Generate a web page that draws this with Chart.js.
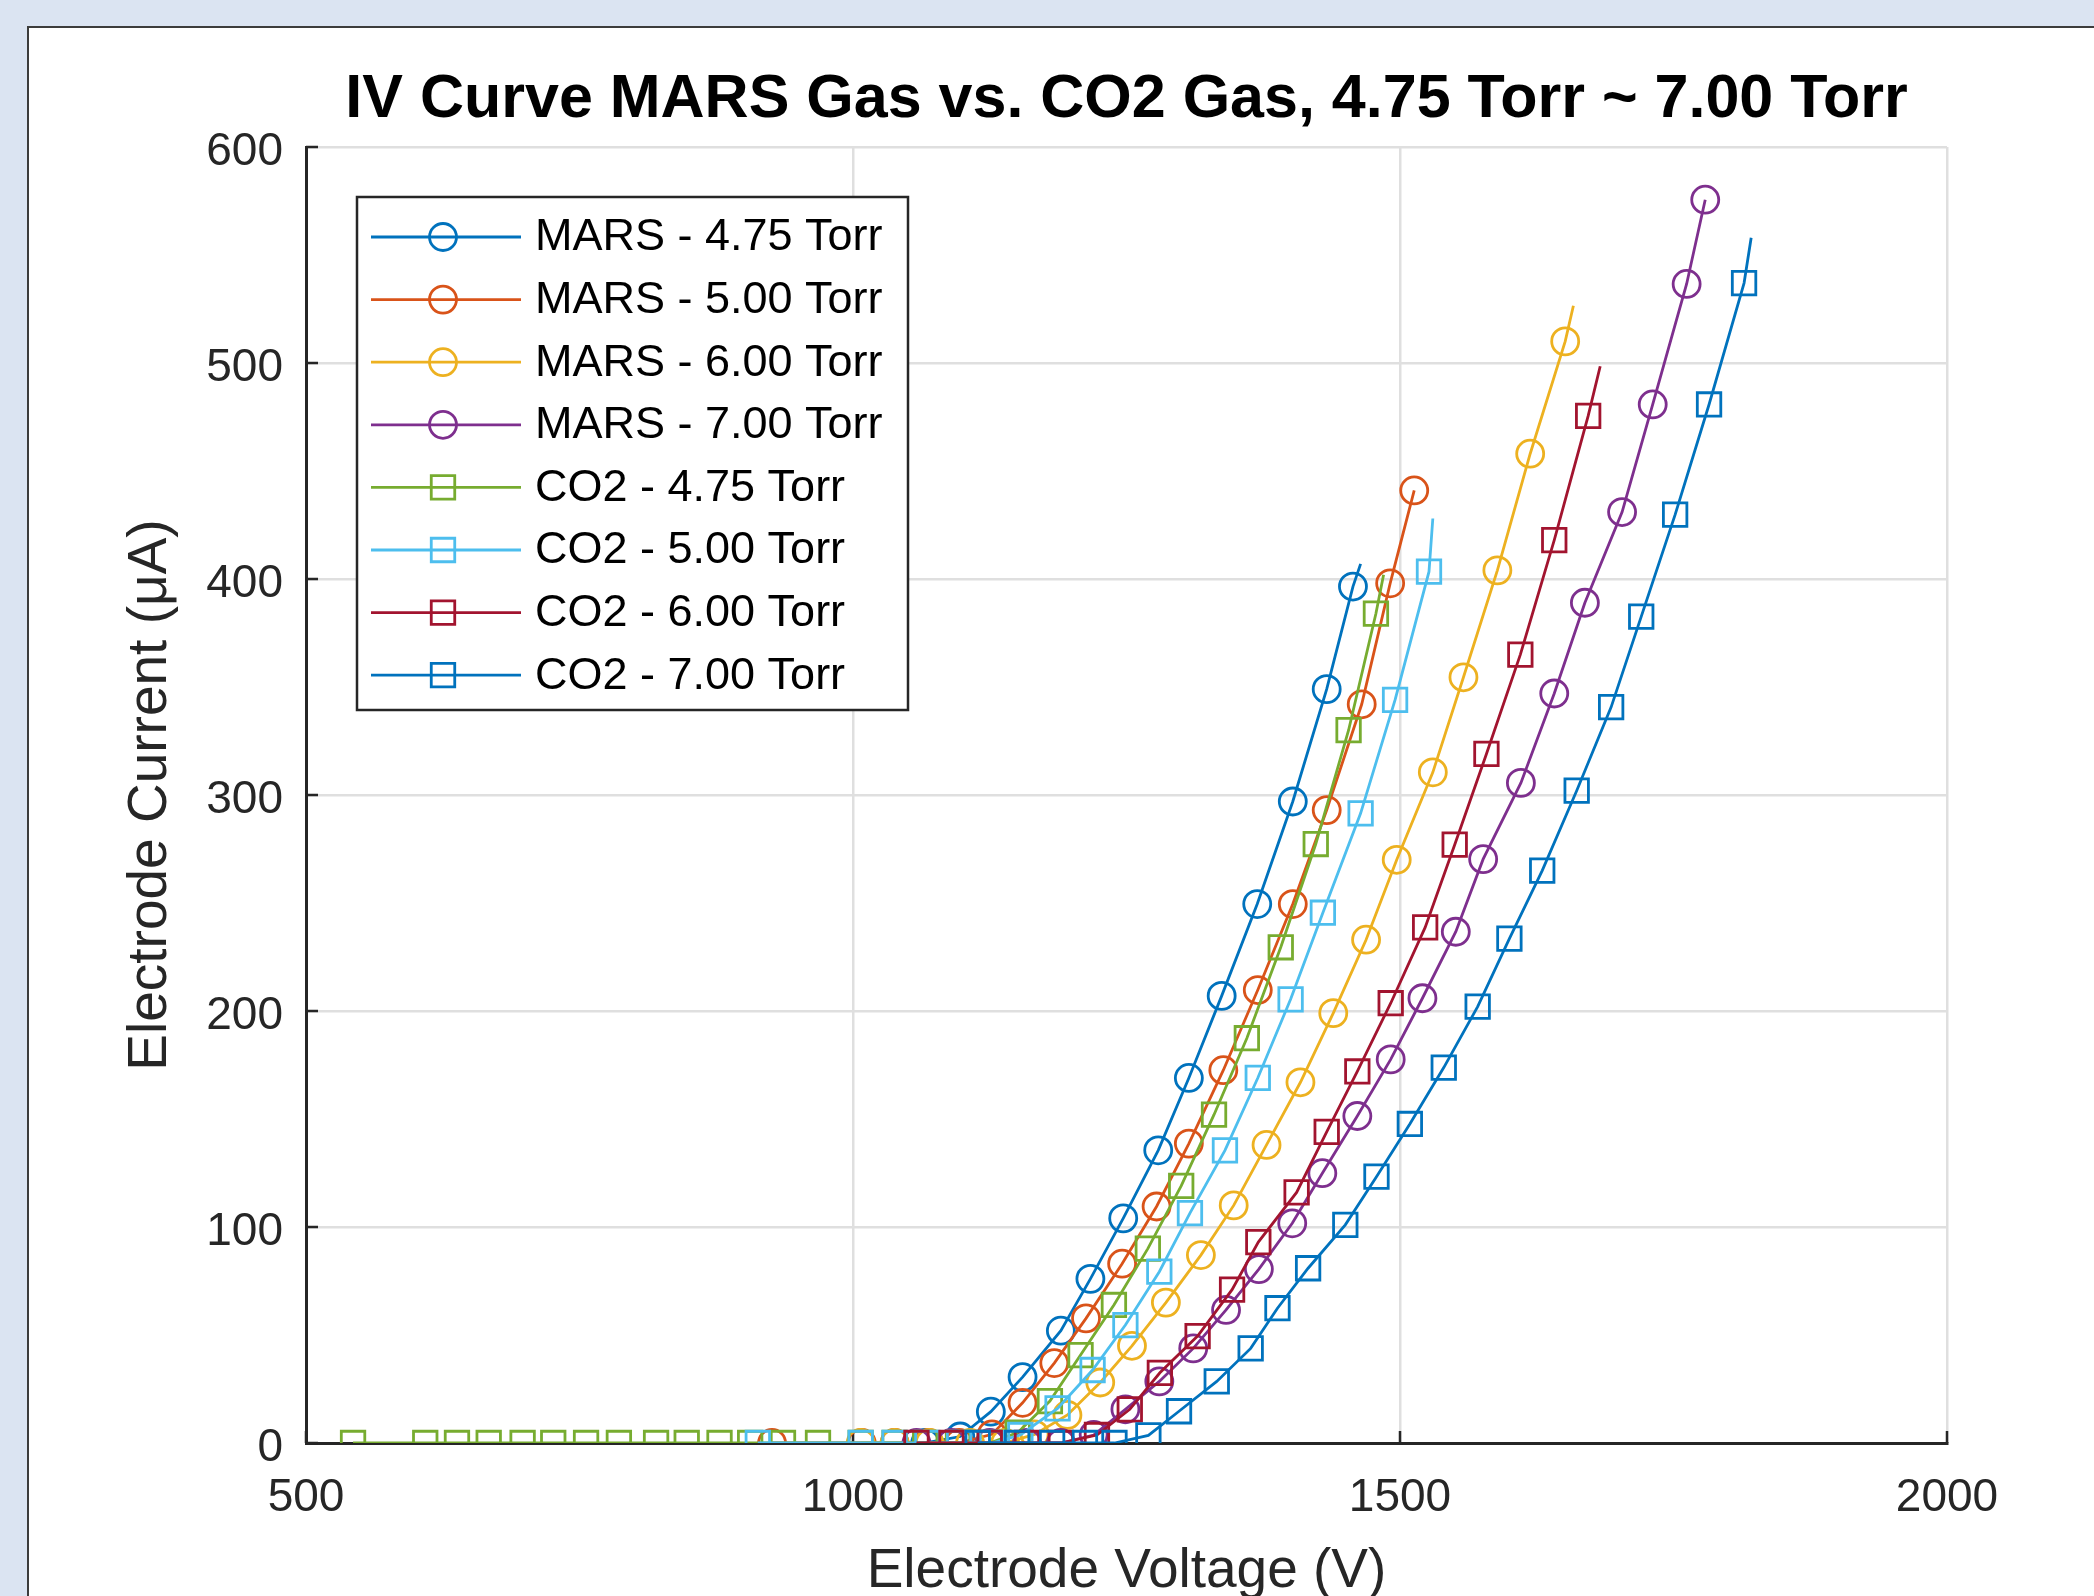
<!DOCTYPE html>
<html>
<head>
<meta charset="utf-8">
<title>IV Curve MARS Gas vs. CO2 Gas</title>
<script src="https://cdn.jsdelivr.net/npm/chart.js@4.4.1/dist/chart.umd.min.js"></script>
<style>
    html, body { margin: 0; padding: 0; overflow: hidden; }
    body { width: 2094px; height: 1596px; background: #dbe4f2; position: relative; }
    #panel {
        position: absolute; left: 27px; top: 26px; right: 0; bottom: 0;
        background: #fff;
        border-top: 2px solid #3c3c3c;
        border-left: 2px solid #3c3c3c;
    }
    #ivChart { position: absolute; left: 0; top: 0; }
</style>
</head>
<body>
<div id="panel"></div>
<canvas id="ivChart" width="2094" height="1596"></canvas>
<script>
// --- Data (voltage in V, current in uA) ---
const seriesLabels = [
    'MARS - 4.75 Torr', 'MARS - 5.00 Torr', 'MARS - 6.00 Torr', 'MARS - 7.00 Torr',
    'CO2 - 4.75 Torr', 'CO2 - 5.00 Torr', 'CO2 - 6.00 Torr', 'CO2 - 7.00 Torr'
];

const marsV475 = [1066, 1098, 1126, 1155, 1190, 1217, 1247, 1279, 1307, 1337, 1369.5, 1402, 1433, 1457, 1464];
const marsI475 = [0, 3, 14.5, 30.5, 52, 76, 104, 135.5, 169, 207, 249.5, 297, 349, 396.5, 407];

const marsV500 = [926, 1008, 1038, 1069, 1097, 1127, 1155, 1184, 1213, 1246, 1277.5, 1307, 1338.5, 1370, 1402, 1433, 1465, 1491, 1513];
const marsI500 = [0, 0, 0, 0, 0, 4, 18.6, 37, 57.7, 83, 109.5, 138.6, 172.6, 209.7, 249.5, 293, 342, 398, 441];

const marsV600 = [1007, 1038, 1070, 1107, 1139, 1166, 1196, 1226, 1255, 1286, 1318, 1348, 1378, 1409, 1439, 1469, 1497, 1530, 1558, 1589, 1619, 1651, 1658.5];
const marsI600 = [0, 0, 0, 0, 0, 4, 13, 28, 45, 65, 87, 110, 138, 167, 199, 233, 270, 310.5, 354.5, 404, 458, 510, 526.5];

const marsV700 = [1058, 1090, 1125, 1159, 1190, 1220, 1249, 1280, 1311, 1341, 1371, 1401.5, 1429, 1461, 1491.5, 1520.5, 1551, 1576, 1610.5, 1641, 1669, 1703, 1731, 1762, 1779];
const marsI700 = [0, 0, 0, 0, 0, 3.7, 15.6, 28.5, 43.8, 61.6, 80.5, 101.7, 124.9, 151.4, 177.6, 205.9, 236.7, 270.3, 305.6, 347, 389, 431, 480.8, 536.6, 575.6];

const co2V475 = [543, 609, 638, 667, 698, 726, 756, 786, 820, 848, 878, 906, 936, 968, 1007, 1038, 1066, 1096, 1125,
                 1150.5, 1180, 1208, 1238.5, 1269.5, 1300, 1330, 1360, 1391, 1423, 1453, 1478, 1485];
const co2I475 = [0, 0, 0, 0, 0, 0, 0, 0, 0, 0, 0, 0, 0, 0, 0, 0, 0, 0, 0,
                 4.8, 19.4, 40.7, 63.9, 90, 119, 152, 187.4, 229.5, 277.3, 330, 384, 402];

const co2V500 = [913, 1007, 1038, 1068, 1097, 1127, 1153, 1187, 1219, 1249, 1280, 1308, 1340, 1370, 1400, 1429.5, 1464, 1495.5, 1526.5, 1530];
const co2I500 = [0, 0, 0, 0, 0, 0, 3.7, 16, 33.8, 54.6, 79.3, 106.4, 135.5, 169, 205.4, 245.5, 291.5, 344, 403.4, 428];

const co2V600 = [1058, 1090, 1125, 1159, 1190, 1223, 1253, 1280.5, 1315, 1346.5, 1370.5, 1405.5, 1433, 1461, 1491.5, 1523, 1550, 1579, 1610, 1641, 1672, 1683];
const co2I600 = [0, 0, 0, 0, 0, 3.7, 15.6, 32.5, 49.5, 71, 93, 116, 144, 172, 203.6, 238.7, 277, 319, 365, 418, 475.5, 498.5];

const co2V700 = [1114, 1150, 1182, 1212, 1239, 1270, 1298, 1332.5, 1363.5, 1388, 1416, 1450, 1478.5, 1509, 1540, 1571, 1600, 1630, 1661.5, 1693, 1720.5, 1751.5, 1782.5, 1814.5, 1821];
const co2I700 = [0, 0, 0, 0, 0, 3.5, 14.7, 28.5, 43.8, 62.4, 80.9, 101, 123.3, 147.7, 173.8, 202, 233.5, 265, 302, 340.7, 382.6, 429.8, 480.8, 537, 558];

// last sample of these series is drawn as line only (no marker)
const lineOnlyTail = [true, false, true, false, true, true, true, true];

const xTicks = [500, 1000, 1500, 2000];
const yTicks = [0, 100, 200, 300, 400, 500, 600];

// MATLAB default color order
const colors = ['#0072BD', '#D95319', '#EDB120', '#7E2F8E', '#77AC30', '#4DBEEE', '#A2142F', '#0072BD'];
const markers = ['circle', 'circle', 'circle', 'circle', 'rect', 'rect', 'rect', 'rect'];

const volts = [marsV475, marsV500, marsV600, marsV700, co2V475, co2V500, co2V600, co2V700];
const currents = [marsI475, marsI500, marsI600, marsI700, co2I475, co2I500, co2I600, co2I700];

const FONT = "'Liberation Sans', Arial, Helvetica, sans-serif";
const AXIS_COLOR = '#262626';
const GRID_COLOR = '#dfdfdf';
const LINE_W = 2.8;

Chart.defaults.font.family = FONT;

const datasets = seriesLabels.map((label, i) => {
    const n = volts[i].length;
    const r = markers[i] === 'circle' ? 13.5 : 16.6;
    return {
        label: label,
        data: volts[i].map((v, k) => ({ x: v, y: currents[i][k] })),
        showLine: true,
        borderColor: colors[i],
        backgroundColor: 'rgba(0,0,0,0)',
        borderWidth: LINE_W,
        pointStyle: markers[i],
        pointBorderColor: colors[i],
        pointBackgroundColor: 'rgba(0,0,0,0)',
        pointBorderWidth: LINE_W,
        pointRadius: ctx => (lineOnlyTail[i] && ctx.dataIndex === n - 1) ? 0 : r,
        pointHoverRadius: ctx => (lineOnlyTail[i] && ctx.dataIndex === n - 1) ? 0 : r,
        tension: 0,
        order: seriesLabels.length - i
    };
});

// --- MATLAB style inward tick marks ---
const innerTicks = {
    id: 'innerTicks',
    beforeDatasetsDraw(chart) {
        const { ctx, chartArea, scales } = chart;
        ctx.save();
        ctx.strokeStyle = AXIS_COLOR;
        ctx.lineWidth = 2.5;
        ctx.beginPath();
        xTicks.forEach(v => {
            const px = scales.x.getPixelForValue(v);
            ctx.moveTo(px, chartArea.bottom);
            ctx.lineTo(px, chartArea.bottom - 12);
        });
        yTicks.forEach(v => {
            const py = scales.y.getPixelForValue(v);
            ctx.moveTo(chartArea.left, py);
            ctx.lineTo(chartArea.left + 12, py);
        });
        ctx.stroke();
        ctx.restore();
    }
};

// --- legend box inside the axes, top left ---
const insideLegend = {
    id: 'insideLegend',
    afterDraw(chart) {
        const ctx = chart.ctx;
        const box = { left: 357, top: 197, width: 551, height: 513 };
        const firstRow = 237, rowGap = 62.6;
        ctx.save();
        ctx.fillStyle = '#fff';
        ctx.fillRect(box.left, box.top, box.width, box.height);
        ctx.lineWidth = 2.5;
        ctx.strokeStyle = AXIS_COLOR;
        ctx.strokeRect(box.left, box.top, box.width, box.height);

        chart.data.datasets.forEach((ds, i) => {
            const y = firstRow + i * rowGap;
            ctx.strokeStyle = ds.borderColor;
            ctx.lineWidth = ds.borderWidth;
            ctx.beginPath();
            ctx.moveTo(371, y);
            ctx.lineTo(521, y);
            ctx.stroke();

            ctx.lineWidth = ds.pointBorderWidth;
            ctx.beginPath();
            if (ds.pointStyle === 'circle') {
                ctx.arc(443, y, 13.5, 0, Math.PI * 2);
            } else {
                const h = 16.6 * Math.SQRT1_2;
                ctx.rect(443 - h, y - h, 2 * h, 2 * h);
            }
            ctx.stroke();

            ctx.fillStyle = '#000';
            ctx.font = '45px ' + FONT;
            ctx.textAlign = 'left';
            ctx.textBaseline = 'middle';
            ctx.fillText(ds.label, 535, y + 1);
        });
        ctx.restore();
    }
};

new Chart(document.getElementById('ivChart'), {
    type: 'scatter',
    data: { datasets: datasets },
    options: {
        responsive: false,
        animation: false,
        events: [],
        layout: { padding: { left: 0, top: 0, right: 147, bottom: 0 } },
        plugins: {
            legend: { display: false },
            tooltip: { enabled: false },
            title: {
                display: true,
                fullSize: false,
                text: 'IV Curve MARS Gas vs. CO2 Gas, 4.75 Torr ~ 7.00 Torr',
                color: '#000',
                font: { size: 61, weight: 'bold', lineHeight: 1.2 },
                padding: { top: 64, bottom: 9.8 }
            }
        },
        scales: {
            x: {
                type: 'linear',
                min: 500,
                max: 2000,
                afterBuildTicks: s => { s.ticks = xTicks.map(v => ({ value: v })); },
                ticks: { font: { size: 46 }, color: AXIS_COLOR, padding: 28, maxRotation: 0, callback: v => String(v) },
                grid: { color: GRID_COLOR, lineWidth: 2.5, drawTicks: false },
                border: { display: true, color: AXIS_COLOR, width: 3 },
                title: {
                    display: true,
                    text: 'Electrode Voltage (V)',
                    color: AXIS_COLOR,
                    font: { size: 55, lineHeight: 1 },
                    padding: { top: 0, bottom: -3 }
                },
                afterFit: s => { s.height = 153; }
            },
            y: {
                type: 'linear',
                min: 0,
                max: 600,
                afterBuildTicks: s => { s.ticks = yTicks.map(v => ({ value: v })); },
                ticks: { font: { size: 46 }, color: AXIS_COLOR, padding: 23, labelOffset: 5, callback: v => String(v) },
                grid: { color: GRID_COLOR, lineWidth: 2.5, drawTicks: false },
                border: { display: true, color: AXIS_COLOR, width: 3 },
                title: {
                    display: true,
                    text: 'Electrode Current (μA)',
                    color: AXIS_COLOR,
                    font: { size: 55, lineHeight: 1 },
                    padding: { top: 123.5, bottom: 0 }
                },
                afterFit: s => { s.width = 306; }
            }
        }
    },
    plugins: [innerTicks, insideLegend]
});
</script>
</body>
</html>
